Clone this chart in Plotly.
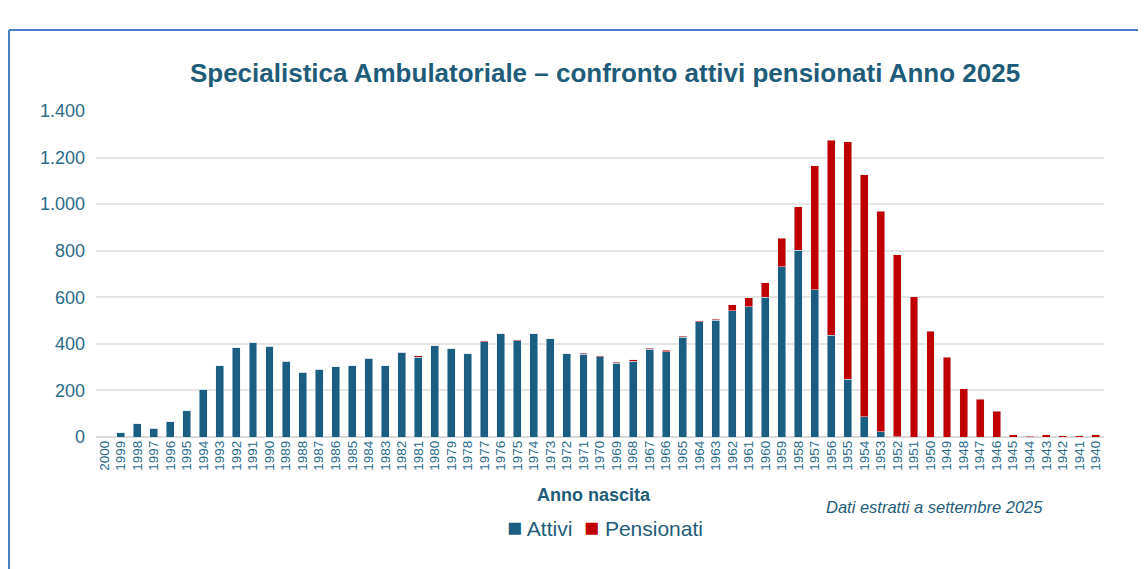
import plotly.graph_objects as go

# Anno di nascita (dal 2000 al 1940)
anni = [str(a) for a in range(2000, 1939, -1)]

attivi = [0, 19, 56, 37, 66, 112, 205, 307, 384, 404,
          390, 325, 278, 292, 301, 307, 338, 306, 363, 343,
          391, 380, 358, 409, 443, 413, 443, 423, 358, 356,
          345, 317, 326, 376, 367, 428, 496, 502, 543, 559,
          600, 732, 801, 633, 438, 248, 86, 23, 2, 0,
          0, 0, 0, 0, 0, 0, 0, 0, 0, 0, 0]

pensionati = [0, 0, 0, 0, 0, 0, 0, 0, 0, 0,
              0, 0, 0, 0, 0, 0, 0, 0, 0, 6,
              0, 0, 0, 5, 0, 5, 0, 0, 0, 4,
              5, 4, 5, 5, 6, 4, 4, 3, 24, 40,
              62, 122, 187, 532, 837, 1019, 1041, 946, 781, 602,
              454, 343, 208, 162, 111, 10, 4, 10, 6, 6, 10]

y_ticks = [0, 200, 400, 600, 800, 1000, 1200, 1400]

blu = "#1B5E82"
rosso = "#C00000"
testo = "#1F5C7A"

fig = go.Figure()
fig.add_trace(go.Bar(x=anni, y=attivi, name="Attivi", marker_color=blu))
fig.add_trace(go.Bar(x=anni, y=pensionati, name="Pensionati", marker_color=rosso))

fig.update_layout(
    barmode="stack",
    bargap=0.52,
    width=1146, height=569,
    margin=dict(l=88, r=50, t=103, b=140),
    paper_bgcolor="white", plot_bgcolor="white",
    separators=",.",
    showlegend=False,
    font=dict(family="Liberation Sans, Arial", color=testo),
    title=dict(text="<b>Specialistica Ambulatoriale – confronto attivi pensionati Anno 2025</b>",
               x=0.521, xanchor="center", y=0.886, yanchor="middle",
               font=dict(size=26, color=testo)),
)

fig.update_xaxes(type="category", tickangle=-90, tickfont=dict(size=13.5, color="#2A6A8A"),
                 showgrid=False, showline=False, ticks="")
fig.update_yaxes(range=[0, 1400], tickvals=y_ticks, tickformat=",d",
                 tickfont=dict(size=18, color="#2A6A8A"),
                 showgrid=True, gridcolor="#E5E5E5", gridwidth=1.5,
                 zeroline=True, zerolinecolor="#D9D9D9", zerolinewidth=1.5,
                 ticklabelstandoff=10)

fig.add_annotation(text="<b>Anno nascita</b>", xref="paper", yref="paper",
                   x=0.494, y=-0.178, xanchor="center", yanchor="middle", showarrow=False,
                   font=dict(size=18, color=testo))

# legenda
fig.add_annotation(text=f"<span style='color:{blu};font-size:25px'>■</span> Attivi  "
                        f"<span style='color:{rosso};font-size:25px'>■</span> Pensionati",
                   xref="paper", yref="paper",
                   x=0.505, y=-0.276, xanchor="center", yanchor="middle", showarrow=False,
                   font=dict(size=21, color=testo))

fig.add_annotation(text="<i>Dati estratti a settembre 2025</i>", xref="paper", yref="paper",
                   x=0.832, y=-0.215, xanchor="center", yanchor="middle", showarrow=False,
                   font=dict(size=16.5, color=testo))

# cornice blu in alto e a sinistra
bordo = "#4A7EC7"
fig.add_shape(type="line", xref="paper", yref="paper", x0=-0.0863, x1=1.06, y0=1.2485, y1=1.2485,
              line=dict(color=bordo, width=2))
fig.add_shape(type="line", xref="paper", yref="paper", x0=-0.0863, x1=-0.0863, y0=1.2485, y1=-0.45,
              line=dict(color=bordo, width=2))

fig.write_html("out.html")
